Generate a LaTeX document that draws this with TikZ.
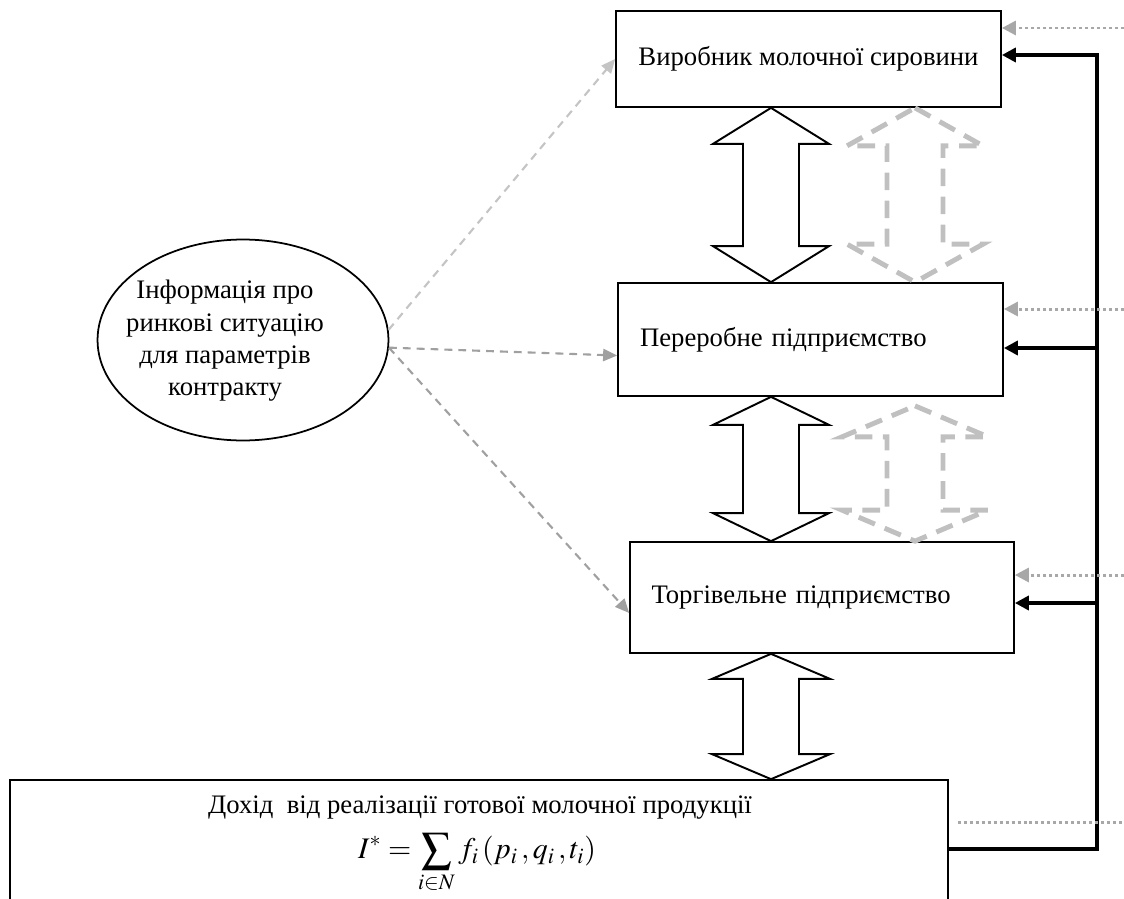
\documentclass[tikz,border=0pt]{standalone}
\usepackage{mathptmx}
\usepackage{fontspec}
\setmainfont{Liberation Serif}
\usepackage{tikz}
\usetikzlibrary{shapes.geometric, arrows.meta, positioning, calc}
\definecolor{infogray}{RGB}{160,160,160}
\definecolor{infolight}{RGB}{196,196,196}
\definecolor{ghostgray}{RGB}{192,192,192}
\definecolor{dotgray}{RGB}{168,168,168}
\newcommand{\mainsize}{\fontsize{15.2}{17.6}\selectfont}
% double block arrow: tip at #2 and #3, half head, half shaft, head length
\newcommand{\dblarrow}[6][]{%
  \draw[#1] (#2) -- ($(#2)+(#4,#6)$) -- ($(#2)+(#5,#6)$) -- ($(#3)+(#5,-#6)$)
    -- ($(#3)+(#4,-#6)$) -- (#3) -- ($(#3)+(-#4,-#6)$) -- ($(#3)+(-#5,-#6)$)
    -- ($(#2)+(-#5,#6)$) -- ($(#2)+(-#4,#6)$) -- cycle;}
\tikzset{
  box/.style={rectangle, draw=black, line width=1pt, minimum width=7.7cm,
    font=\mainsize, inner sep=0pt},
  leftbox/.style={text width=6.82cm, align=left},
  flow/.style={draw=black, fill=white, line width=1.1pt, line join=miter},
  ghost/.style={draw=ghostgray, line width=2.8pt, dash pattern=on 10pt off 6pt},
  marketarrow/.style={-{Triangle[length=8pt,width=7pt]}, line width=1.2pt,
    dash pattern=on 4.5pt off 3.4pt},
  fbarrow/.style={-{Triangle[length=8pt,width=8pt]}, line width=2pt, color=black},
  infoarrow/.style={-{Triangle[length=8pt,width=8pt]}, line width=1.7pt,
    color=dotgray, dash pattern=on 1.7pt off 1.7pt},
  infodots/.style={line width=1.7pt, color=dotgray, dash pattern=on 1.7pt off 1.7pt}
}
\begin{document}
\begin{tikzpicture}[x=0.02cm, y=-0.02cm]
  \useasboundingbox (0,0) rectangle (1124,898);
  % Participants of the chain
  \node[box, minimum height=1.92cm] (producer) at (808.5,59) {Виробник молочної сировини};
  \node[box, leftbox, minimum height=2.26cm] (processor) at (810.5,339.5) {Переробне підприємство};
  \node[box, leftbox, minimum width=7.68cm, minimum height=2.22cm] (retailer) at (822,597.5) {Торгівельне підприємство};
  \node[box, minimum width=18.76cm, minimum height=2.76cm] (income) at (479,849) {};
  \node[font=\mainsize] (incometitle) at (480,808) {Дохід~ від реалізації готової молочної продукції};
  \node[font=\fontsize{17}{20}\selectfont, inner sep=0pt] (incomeformula) at (477,863)
    {$\displaystyle I^{*}=\sum_{i\in N} f_{i}\,(p_{i}\,,q_{i}\,,t_{i})$};
  % Market information
  \node[draw, ellipse, line width=1pt, minimum width=5.82cm, minimum height=4.02cm] (info) at (243,340) {};
  \node[font=\fontsize{15.2}{18.4}\selectfont, align=center] (infotext) at (225,341)
    {Інформація про\\ринкові ситуацію\\для параметрів\\контракту};
  % Helper coordinates
  \coordinate (mainaxis) at (771,0);
  \coordinate (sideaxis) at (915,0);
  \coordinate (bus) at (1097,0);
  \coordinate (edge) at (1124,0);
  \coordinate (ghosttop) at ($(sideaxis |- processor.south)+(0,9)$);
  % Flows between the participants
  \dblarrow[flow]{mainaxis |- producer.south}{mainaxis |- processor.north}{58}{28}{36}
  \dblarrow[flow]{mainaxis |- processor.south}{mainaxis |- retailer.north}{58}{28}{28}
  \dblarrow[flow]{mainaxis |- retailer.south}{mainaxis |- income.north}{59}{28}{25}
  \dblarrow[ghost]{sideaxis |- producer.south}{sideaxis |- processor.north}{68}{28}{38}
  \dblarrow[ghost]{ghosttop}{sideaxis |- retailer.north}{73}{28}{31}
  % Information to the participants
  \draw[marketarrow, color=infolight] (info.4) -- (producer.west);
  \draw[marketarrow, color=infogray] (info.-3) -- ([yshift=-0.32cm]processor.west);
  \draw[marketarrow, color=infogray] (info.-3) -- ([yshift=-0.31cm]retailer.west);
  % Feedback from the income
  \coordinate (fb1) at ([yshift=0.08cm]producer.east);
  \coordinate (fb2) at ([yshift=-0.17cm]processor.east);
  \coordinate (fb3) at ([yshift=-0.11cm]retailer.east);
  \draw[fbarrow] (income.east) -| (bus |- fb1) -- (fb1);
  \draw[fbarrow] (bus |- fb2) -- (fb2);
  \draw[fbarrow] (bus |- fb3) -- (fb3);
  % Outside information
  \coordinate (in1) at ([yshift=0.62cm]producer.east);
  \coordinate (in2) at ([yshift=0.61cm]processor.east);
  \coordinate (in3) at ([yshift=0.45cm]retailer.east);
  \coordinate (in4) at ([shift={(0.18cm,0.54cm)}]income.east);
  \draw[infoarrow] (edge |- in1) -- (in1);
  \draw[infoarrow] (edge |- in2) -- (in2);
  \draw[infoarrow] (edge |- in3) -- (in3);
  \draw[infodots] (in4) -- (edge |- in4);
\end{tikzpicture}
\end{document}
